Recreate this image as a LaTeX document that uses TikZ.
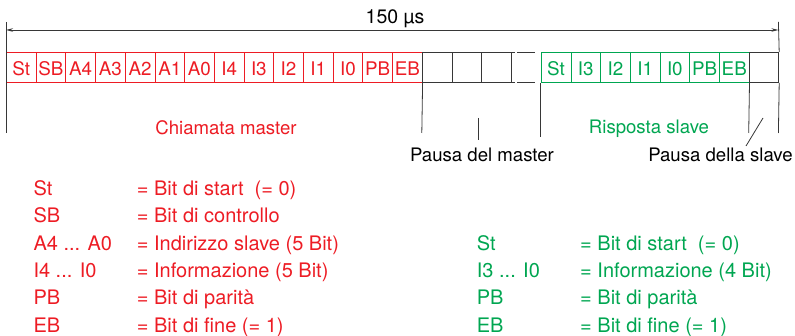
\documentclass[tikz,border=0pt]{standalone}
\usepackage{fontspec}
\setmainfont{TeX Gyre Heros}
\usetikzlibrary{arrows.meta}
\definecolor{masterred}{RGB}{237,28,36}
\definecolor{slavegreen}{RGB}{0,166,81}
\definecolor{rulegray}{RGB}{55,55,55}
\begin{document}
\begin{tikzpicture}[x=1pt,y=-1pt,
  txt/.style={font=\fontsize{18.6}{18.6}\selectfont, inner sep=0pt},
  cell/.style={txt, font=\fontsize{18.8}{18.8}\selectfont, draw, line width=0.8pt,
    minimum width=29.7pt, minimum height=30pt,
    anchor=north west, text height=16pt, text depth=0pt},
  mcell/.style={cell, draw=masterred, text=masterred},
  scell/.style={cell, draw=slavegreen, text=slavegreen},
  pcell/.style={cell, draw=rulegray},
  guide/.style={draw=rulegray, line width=0.8pt},
  dim/.style={guide, {Stealth[length=7pt,width=3.5pt]}-{Stealth[length=7pt,width=3.5pt]}},
  key/.style={txt, font=\fontsize{20}{20}\selectfont, anchor=base west},
]
\useasboundingbox (0,0) rectangle (795,336);

% master frame
\foreach \t [count=\i] in {St,SB,A4,A3,A2,A1,A0,I4,I3,I2,I1,I0,PB,EB}
  \node[mcell] (m\i) at ({6+(\i-1)*29.7},52) {\t};
% master pause
\foreach \i in {1,2,3}
  \node[pcell] (p\i) at ({421.8+(\i-1)*29.7},52) {};
% interrupted part of the pause
\draw[guide] (p3.north east) -- +(3,0)  (p3.south east) -- +(3,0);
\coordinate (gapA) at (517,52); \coordinate (gapB) at (535,52);
\coordinate (gapC) at (517,82); \coordinate (gapD) at (535,82);
\draw[guide] (gapA) -- (gapB) (gapC) -- (gapD);
% slave frame
\foreach \t [count=\i] in {St,I3,I2,I1,I0,PB,EB}
  \node[scell] (s\i) at ({540.8+(\i-1)*29.7},52) {\t};
% slave pause
\node[pcell] (e1) at (748.7,52) {};

% extension lines
\coordinate (L0) at (6,22);   \coordinate (L1) at (6,133);
\coordinate (R0) at (778.4,22); \coordinate (R1) at (778.4,133);
\draw[guide] (L0) -- (L1);
\draw[guide] (R0) -- (e1.north east) (e1.south east) -- (R1);
\coordinate (mEnd) at (421.8,133);
\coordinate (sBeg) at (540.8,137);
\coordinate (sEnd) at (748.7,133);
\draw[guide] (m14.south east) -- (mEnd);
\draw[guide] (s1.south west) -- (sBeg);
\draw[guide] (s7.south east) -- (sEnd);

% overall duration
\coordinate (dL) at (6,30); \coordinate (dR) at (778.4,30);
\draw[dim] (dL) -- (dR);
\node[txt, font=\fontsize{19.5}{19.5}\selectfont, anchor=base] (dur) at (395,24) {150 µs};

% phase labels
\node[txt, anchor=base, text=masterred] (lm) at (226,135) {Chiamata master};
\node[txt, anchor=base, text=slavegreen] (ls) at (649,133.3) {Risposta slave};
\node[txt, anchor=base] (pm) at (482,161.7) {Pausa del master};
\node[txt, anchor=base] (ps) at (720.5,161.7) {Pausa della slave};
\coordinate (pmTop) at (478,118); \coordinate (pmBot) at (478,140);
\draw[guide] (pmTop) -- (pmBot);
\coordinate (psTop) at (763,118); \coordinate (psBot) at (746,146);
\draw[guide] (psTop) -- (psBot);

% legend, master
\begin{scope}[every node/.append style={key, text=masterred}]
  \node (k1) at (33.3,195.3) {St};        \node (v1) at (136.7,195.3) {= Bit di start\ \ (= 0)};
  \node (k2) at (33.3,222.7) {SB};        \node (v2) at (136.7,222.7) {= Bit di controllo};
  \node (k3) at (33.3,250.1) {A4 ... A0}; \node (v3) at (136.7,250.1) {= Indirizzo slave (5 Bit)};
  \node (k4) at (33.3,277.5) {I4 ... I0}; \node (v4) at (136.7,277.5) {= Informazione (5 Bit)};
  \node (k5) at (33.3,304.9) {PB};        \node (v5) at (136.7,304.9) {= Bit di parità};
  \node (k6) at (33.3,332.3) {EB};        \node (v6) at (136.7,332.3) {= Bit di fine (= 1)};
\end{scope}
% legend, slave
\begin{scope}[every node/.append style={key, text=slavegreen}]
  \node (q1) at (476.7,250.1) {St};        \node (w1) at (580,250.1) {= Bit di start\ \ (= 0)};
  \node (q2) at (476.7,277.5) {I3 ... I0}; \node (w2) at (580,277.5) {= Informazione (4 Bit)};
  \node (q3) at (476.7,304.9) {PB};        \node (w3) at (580,304.9) {= Bit di parità};
  \node (q4) at (476.7,332.3) {EB};        \node (w4) at (580,332.3) {= Bit di fine (= 1)};
\end{scope}
\end{tikzpicture}
\end{document}
